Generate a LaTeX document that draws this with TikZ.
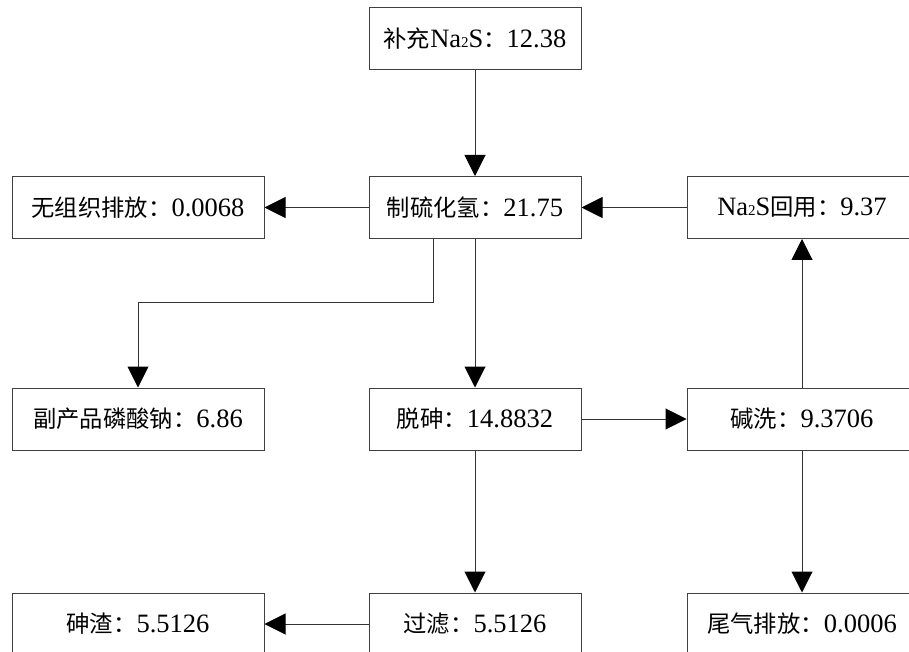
\documentclass[tikz,border=0pt]{standalone}
\usepackage{fontspec}
\setmainfont{Liberation Serif}
\newfontfamily\cjk{Noto Sans CJK SC}[Scale=0.88]
\usetikzlibrary{arrows.meta}
\newcommand\zh[1]{{\cjk #1}}
\newcommand\two{{\fontsize{15}{15}\selectfont 2}}
\begin{document}
\begin{tikzpicture}[x=1pt,y=1pt,
  box/.style={draw=black!75,line width=1pt,rectangle,minimum height=62pt,
    inner sep=0pt,font=\fontsize{26.5}{26.5}\selectfont},
  wl/.style={box,minimum width=252pt},
  wm/.style={box,minimum width=212pt},
  wr/.style={box,minimum width=230pt},
  flow/.style={line width=1pt,draw=black!80,
    -{Triangle[length=21pt,width=21pt,color=black]}}]
\useasboundingbox (0,0) rectangle (909,651);
% process boxes
\node[wm] (na2s)   at (475,612)   {\zh{补充}Na\two S\zh{：}12.38};
\node[wl] (loss)   at (138,443.5) {\zh{无组织排放：}0.0068};
\node[wm] (h2s)    at (475,443.5) {\zh{制硫化氢：}21.75};
\node[wr] (reuse)  at (802,443.5) {Na\two S\zh{回用：}9.37};
\node[wl] (byprod) at (138,232)   {\zh{副产品磷酸钠：}6.86};
\node[wm] (dearsen) at (475,232)  {\zh{脱砷：}14.8832};
\node[wr] (wash)   at (802,232)   {\zh{碱洗：}9.3706};
\node[wl] (slag)   at (138,27)    {\zh{砷渣：}5.5126};
\node[wm] (filter) at (475,27)    {\zh{过滤：}5.5126};
\node[wr] (tail)   at (802,27)    {\zh{尾气排放：}0.0006};
% connectors
\coordinate (bend) at (433,348);
\draw[flow] (na2s) -- (h2s);
\draw[flow] (h2s) -- (loss);
\draw[flow] (reuse) -- (h2s);
\draw[flow] (h2s.south -| bend) -- (bend) -| (byprod.north);
\draw[flow] (h2s) -- (dearsen);
\draw[flow] (dearsen) -- (wash);
\draw[flow] (wash) -- (reuse);
\draw[flow] (dearsen) -- (filter);
\draw[flow] (wash) -- (tail);
\draw[flow] (filter) -- (slag);
\end{tikzpicture}
\end{document}
